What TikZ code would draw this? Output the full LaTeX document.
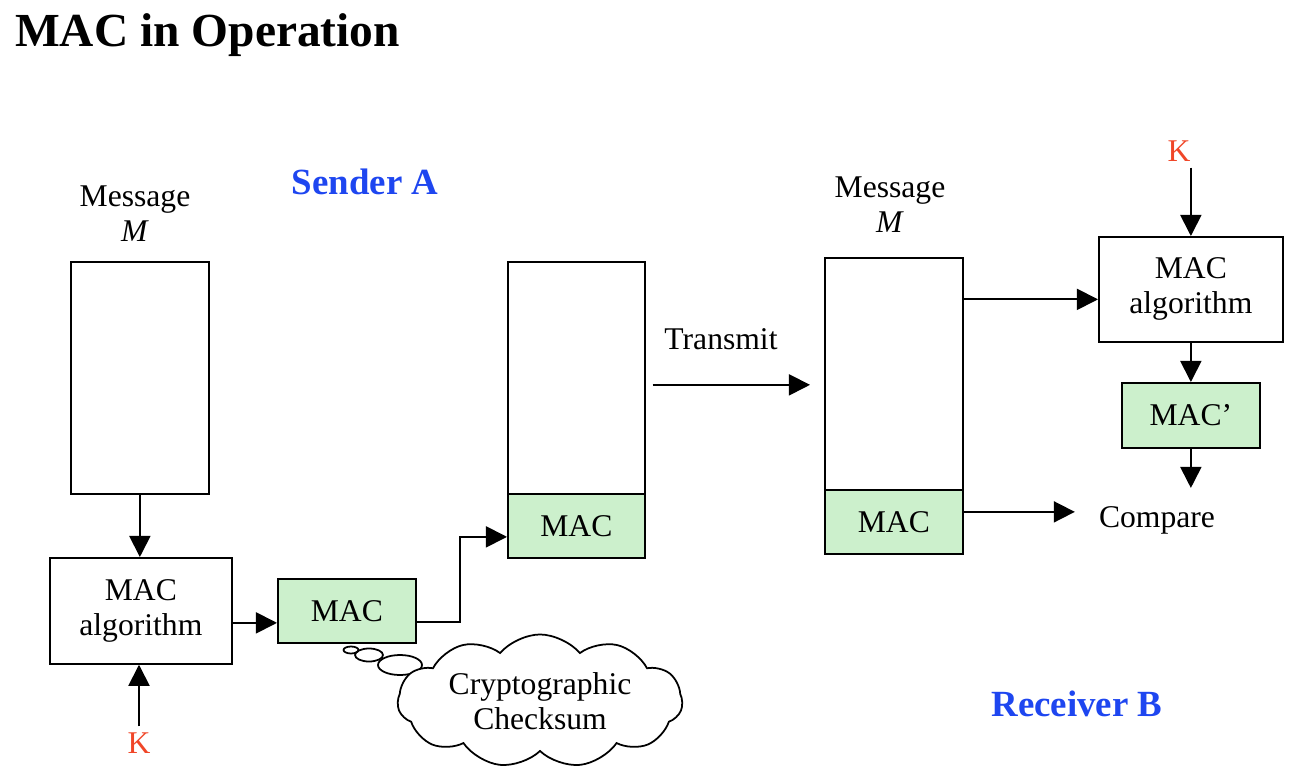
\documentclass[tikz,border=0pt]{standalone}
\usepackage{fontspec}
\setmainfont{Liberation Serif}
\usetikzlibrary{arrows.meta,shapes.symbols}
\definecolor{macgreen}{RGB}{204,240,204}
\definecolor{keyred}{RGB}{240,70,40}
\definecolor{sideblue}{RGB}{30,70,240}
\tikzset{
    box/.style={draw, line width=1pt, anchor=north west, inner sep=0pt},
    macbox/.style={box, fill=macgreen},
    lbl/.style={font=\fontsize{18}{20}\selectfont, align=center},
    keylbl/.style={lbl, text=keyred},
    side/.style={font=\fontsize{21}{24}\selectfont\bfseries, text=sideblue},
    arr/.style={line width=1pt, -{Triangle[length=12pt,width=12pt]}},
}
\begin{document}
\begin{tikzpicture}[x=0.02cm, y=-0.02cm]
    \useasboundingbox (0,0) rectangle (1294,777);
    \node[font=\fontsize{27}{30}\selectfont\bfseries, anchor=west] (title) at (9,35) {MAC in Operation};
    % sender A
    \node[box, minimum width=2.76cm, minimum height=4.64cm] (msgA) at (70,261) {};
    \node[lbl] (msgAlbl) at (135,214) {Message\\\textit{M}};
    \node[side] (sndA) at (365,182) {Sender A};
    \node[box, lbl, minimum width=3.64cm, minimum height=2.12cm] (algA) at (49,557) {MAC\\algorithm};
    \node[keylbl] (kA) at (139,743) {K};
    \node[macbox, lbl, minimum width=2.76cm, minimum height=1.28cm] (macA) at (277,578) {MAC};
    \draw[line width=1pt] (351,650) ellipse [x radius=0.15cm, y radius=0.07cm];
    \draw[line width=1pt] (369,655) ellipse [x radius=0.28cm, y radius=0.13cm];
    \draw[line width=1pt] (400,665) ellipse [x radius=0.44cm, y radius=0.2cm];
    \node[cloud, draw, line width=1pt, fill=white, cloud puffs=11, cloud puff arc=100, aspect=2.5, inner sep=0pt, minimum width=5.7cm, minimum height=2.25cm, lbl] (chk) at (540,701) {Cryptographic\\Checksum};
    % message sent
    \node[box, minimum width=2.74cm, minimum height=4.64cm] (msgT) at (507,261) {};
    \node[macbox, lbl, minimum width=2.74cm, minimum height=1.28cm] (macT) at (507,493) {MAC};
    \node[lbl] (tx) at (721,339) {Transmit};
    % receiver B
    \node[box, minimum width=2.76cm, minimum height=4.64cm] (msgB) at (824,257) {};
    \node[macbox, lbl, minimum width=2.76cm, minimum height=1.28cm] (macB) at (824,489) {MAC};
    \node[lbl] (msgBlbl) at (890,205) {Message\\\textit{M}};
    \node[keylbl] (kB) at (1179,151) {K};
    \node[box, lbl, minimum width=3.68cm, minimum height=2.1cm] (algB) at (1098,236) {MAC\\algorithm};
    \node[macbox, lbl, minimum width=2.76cm, minimum height=1.3cm] (macP) at (1121,382) {MAC'};
    \node[lbl] (cmp) at (1157,520) {Compare};
    \node[side] (rcvB) at (1077,704) {Receiver B};
    % arrows
    \draw[arr] (msgA.south) -- (msgA.south |- algA.north);
    \draw[arr] (kA.north) -- (kA.north |- algA.south);
    \draw[arr] ([yshift=-0.24cm]algA.east) -- ([yshift=-0.24cm]algA.east -| macA.west);
    \draw[arr] ([yshift=-0.22cm]macA.east) -| ([xshift=-0.94cm,yshift=-0.22cm]macT.west) -- ([yshift=-0.22cm]macT.west);
    \draw[arr, shorten <=0.14cm, shorten >=0.28cm] ([yshift=-0.14cm]msgT.east) -- ([yshift=-0.14cm]msgT.east -| msgB.west);
    \draw[arr] ([yshift=-0.2cm]algB.west -| msgB.east) -- ([yshift=-0.2cm]algB.west);
    \draw[arr] (algB.north |- kB.south) -- (algB.north);
    \draw[arr] (algB.south) -- (algB.south |- macP.north);
    \draw[arr, shorten >=0.24cm] (algB.south |- macP.south) -- (algB.south |- cmp.north);
    \draw[arr, shorten >=0.36cm] ([yshift=0.2cm]macB.east) -- ([yshift=0.2cm]macB.east -| cmp.west);
\end{tikzpicture}
\end{document}
